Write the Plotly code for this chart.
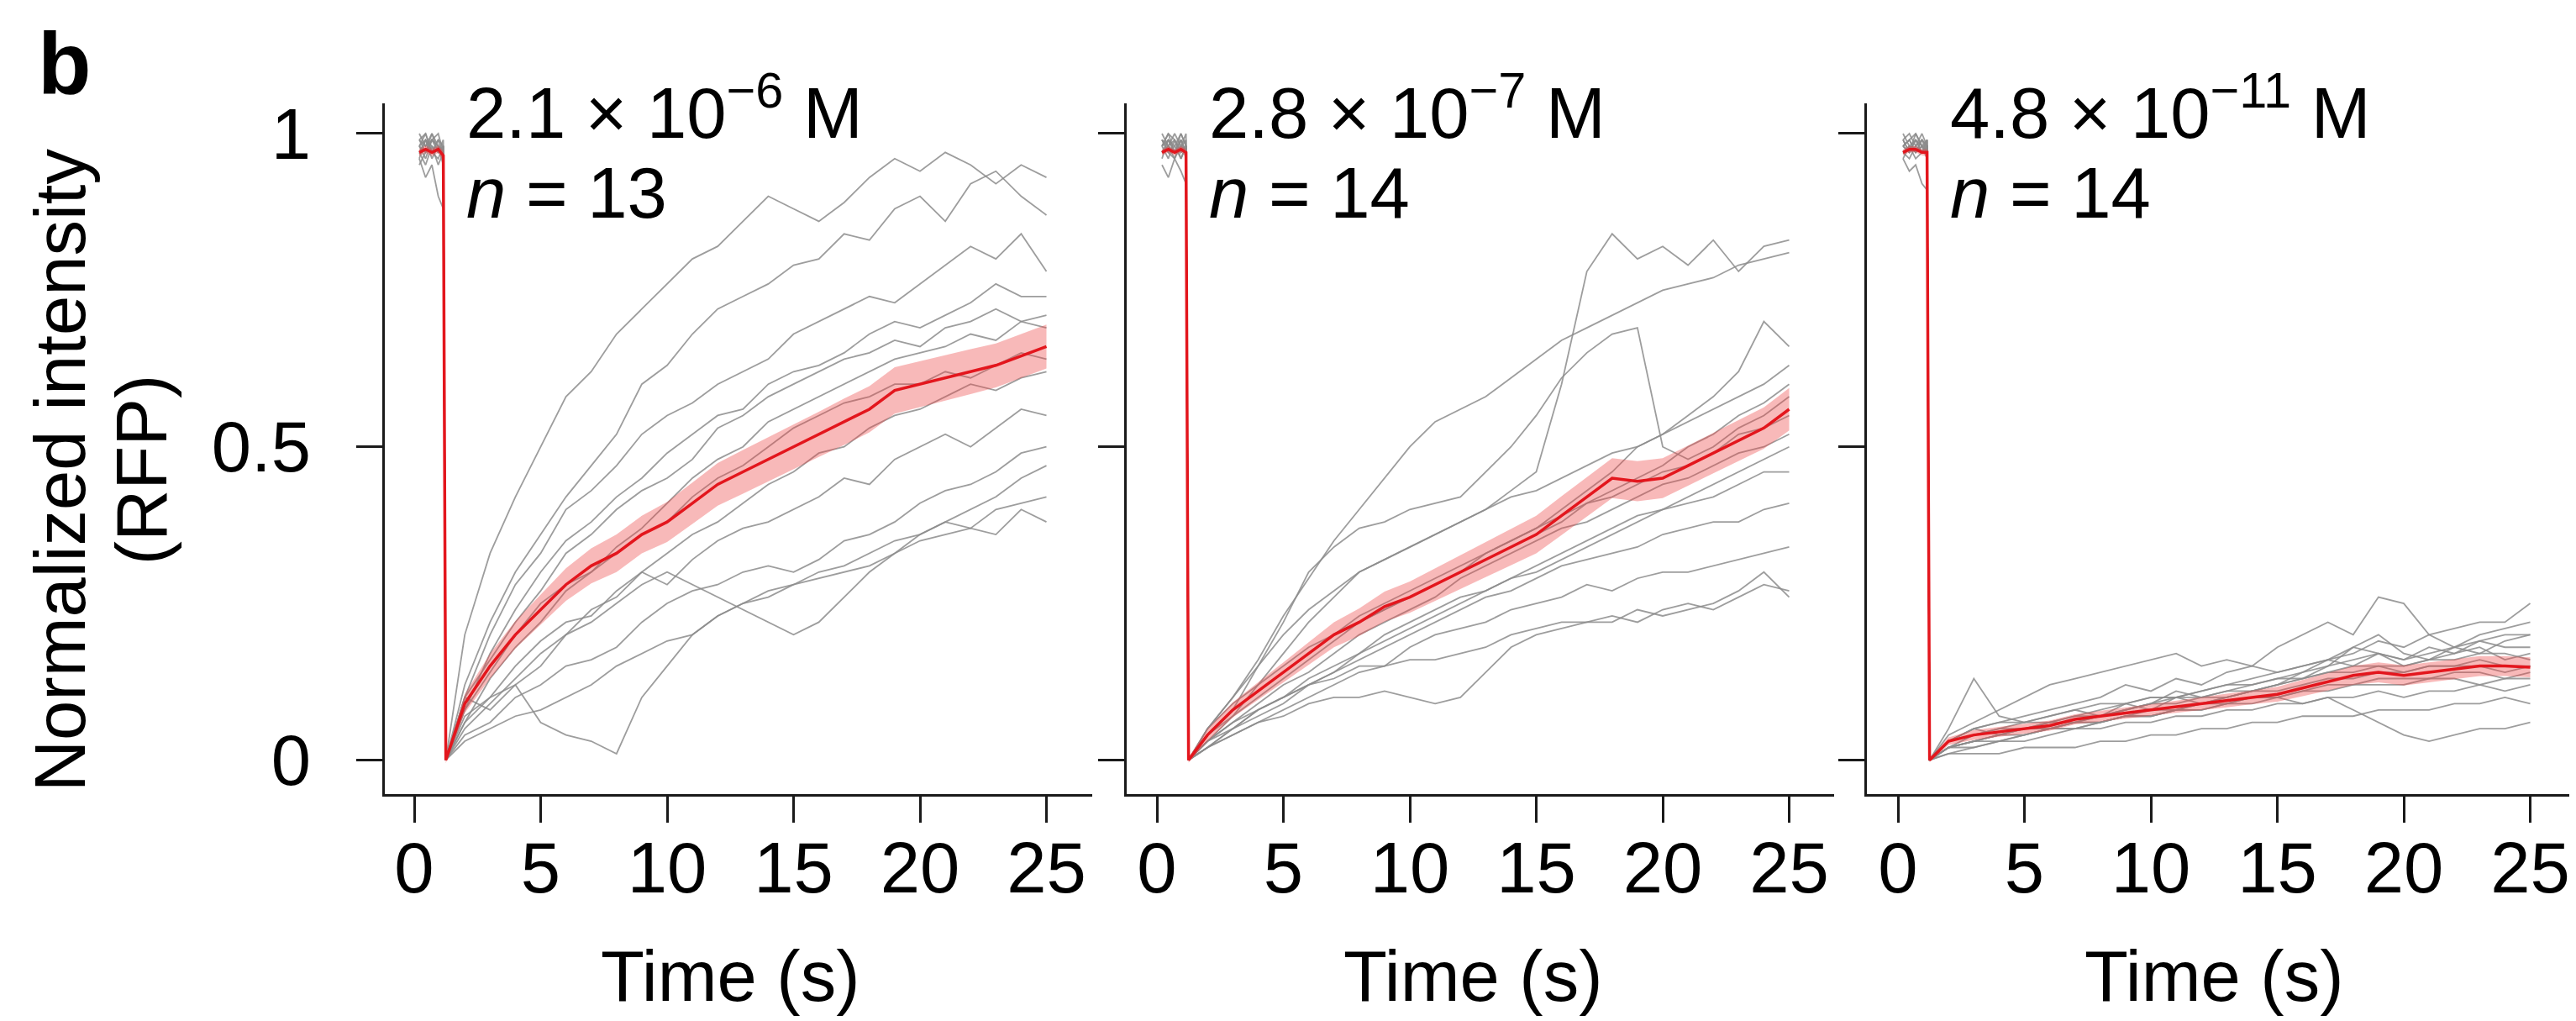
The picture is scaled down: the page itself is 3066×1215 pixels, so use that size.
import plotly.graph_objects as go

# ---------------- data ----------------
# time points (s): 5 pre-bleach samples, then recovery from bleach at ~1.2 s
time_s = [0.2, 0.45, 0.7, 0.95, 1.15,
          1.25, 2, 3, 4, 5, 6, 7, 8, 9, 10, 11, 12, 13, 14, 15,
          16, 17, 18, 19, 20, 21, 22, 23, 24, 25]

x_ticks = [0, 5, 10, 15, 20, 25]
y_ticks = [0, 0.5, 1]
y_tick_labels = ["0", "0.5", "1"]

conc_labels = ["2.1 × 10<sup>−6</sup> M", "2.8 × 10<sup>−7</sup> M", "4.8 × 10<sup>−11</sup> M"]
n_labels = ["<i>n</i> = 13", "<i>n</i> = 14", "<i>n</i> = 14"]

# panel 1: 2.1e-6 M, individual cells
cells_p1 = [
    [0.98,1.00,0.97,0.99,0.96, 0,0.20,0.33,0.42,0.50,0.58,0.62,0.68,0.72,0.76,0.80,0.82,0.86,0.90,0.88,0.86,0.89,0.93,0.96,0.94,0.97,0.95,0.92,0.95,0.93],
    [0.99,0.97,1.00,0.98,0.97, 0,0.12,0.22,0.30,0.36,0.42,0.47,0.52,0.60,0.63,0.68,0.72,0.74,0.76,0.79,0.80,0.84,0.83,0.88,0.90,0.86,0.92,0.94,0.90,0.87],
    [0.96,0.99,0.98,0.95,0.97, 0,0.10,0.20,0.28,0.33,0.40,0.43,0.47,0.52,0.55,0.57,0.60,0.62,0.64,0.68,0.70,0.72,0.74,0.73,0.76,0.79,0.82,0.80,0.84,0.78],
    [1.00,0.98,0.99,0.97,0.98, 0,0.08,0.17,0.24,0.30,0.35,0.38,0.42,0.45,0.49,0.52,0.55,0.56,0.60,0.62,0.63,0.65,0.68,0.70,0.69,0.71,0.73,0.76,0.74,0.74],
    [0.97,0.99,0.96,0.98,0.95, 0,0.10,0.16,0.22,0.27,0.33,0.36,0.40,0.43,0.45,0.48,0.53,0.55,0.58,0.60,0.62,0.64,0.65,0.67,0.66,0.69,0.70,0.72,0.70,0.71],
    [0.98,0.96,0.99,1.00,0.97, 0,0.06,0.13,0.18,0.22,0.27,0.30,0.34,0.37,0.41,0.45,0.48,0.50,0.54,0.56,0.58,0.60,0.62,0.64,0.65,0.66,0.68,0.67,0.70,0.69],
    [0.99,1.00,0.97,0.96,0.98, 0,0.08,0.14,0.20,0.25,0.28,0.30,0.33,0.36,0.38,0.42,0.45,0.47,0.50,0.53,0.55,0.57,0.58,0.60,0.60,0.62,0.61,0.63,0.65,0.64],
    [0.95,0.97,0.99,0.98,0.96, 0,0.05,0.09,0.13,0.17,0.20,0.24,0.26,0.30,0.33,0.36,0.38,0.41,0.44,0.46,0.49,0.50,0.53,0.55,0.56,0.58,0.60,0.59,0.61,0.62],
    [0.98,0.99,0.97,0.99,0.98, 0,0.07,0.10,0.15,0.19,0.22,0.23,0.27,0.30,0.28,0.32,0.35,0.37,0.38,0.40,0.42,0.45,0.44,0.48,0.50,0.52,0.50,0.53,0.56,0.55],
    [0.97,0.95,0.98,0.97,0.99, 0,0.04,0.06,0.10,0.12,0.15,0.16,0.18,0.22,0.25,0.27,0.28,0.30,0.31,0.30,0.32,0.35,0.36,0.38,0.41,0.43,0.44,0.46,0.49,0.50],
    [0.99,0.98,1.00,0.97,0.98, 0,0.06,0.10,0.12,0.15,0.20,0.22,0.25,0.28,0.30,0.28,0.26,0.24,0.22,0.20,0.22,0.26,0.30,0.33,0.36,0.38,0.40,0.42,0.45,0.47],
    [0.96,0.93,0.95,0.90,0.88, 0,0.10,0.08,0.12,0.06,0.04,0.03,0.01,0.10,0.15,0.20,0.23,0.25,0.27,0.28,0.30,0.31,0.33,0.35,0.36,0.38,0.37,0.40,0.41,0.42],
    [0.98,0.97,0.99,0.98,0.97, 0,0.03,0.05,0.07,0.08,0.10,0.12,0.15,0.17,0.19,0.20,0.23,0.25,0.26,0.28,0.29,0.30,0.31,0.33,0.35,0.36,0.37,0.36,0.40,0.38],
]
mean_p1 = [0.97,0.975,0.97,0.975,0.965, 0,0.09,0.15,0.20,0.24,0.28,0.31,0.33,0.36,0.38,0.41,0.44,0.46,0.48,0.50,0.52,0.54,0.56,0.59,0.60,0.61,0.62,0.63,0.645,0.66]
sem_p1 = [0.006,0.006,0.006,0.006,0.008, 0.005,0.015,0.020,0.022,0.024,0.026,0.028,0.030,0.030,0.032,0.033,0.034,0.035,0.035,0.036,0.036,0.037,0.037,0.037,0.037,0.036,0.036,0.035,0.035,0.035]

# panel 2: 2.8e-7 M
cells_p2 = [
    [0.98,1.00,0.97,0.99,0.97, 0,0.05,0.10,0.16,0.23,0.29,0.35,0.40,0.45,0.50,0.54,0.56,0.58,0.61,0.64,0.67,0.69,0.71,0.73,0.75,0.76,0.77,0.79,0.80,0.81],
    [0.97,0.99,0.98,1.00,0.98, 0,0.03,0.07,0.12,0.17,0.22,0.26,0.30,0.32,0.34,0.36,0.38,0.40,0.43,0.46,0.60,0.78,0.84,0.80,0.82,0.79,0.83,0.78,0.82,0.83],
    [0.99,0.97,0.96,0.98,0.97, 0,0.04,0.08,0.15,0.22,0.30,0.34,0.37,0.38,0.40,0.41,0.42,0.46,0.50,0.55,0.61,0.65,0.68,0.69,0.50,0.48,0.50,0.53,0.55,0.58],
    [0.98,0.96,0.99,0.97,0.98, 0,0.04,0.08,0.11,0.14,0.17,0.20,0.22,0.24,0.26,0.28,0.30,0.33,0.35,0.37,0.40,0.43,0.46,0.50,0.52,0.55,0.58,0.62,0.70,0.66],
    [1.00,0.98,0.97,0.99,0.96, 0,0.04,0.07,0.10,0.13,0.16,0.19,0.22,0.24,0.26,0.28,0.30,0.32,0.34,0.36,0.38,0.41,0.43,0.45,0.47,0.50,0.52,0.55,0.57,0.60],
    [0.97,0.98,1.00,0.98,0.97, 0,0.05,0.09,0.12,0.15,0.18,0.20,0.23,0.25,0.27,0.29,0.31,0.33,0.35,0.37,0.39,0.41,0.42,0.44,0.46,0.47,0.49,0.52,0.53,0.55],
    [0.99,0.97,0.98,0.96,0.98, 0,0.03,0.06,0.09,0.12,0.14,0.17,0.20,0.22,0.24,0.26,0.29,0.31,0.33,0.35,0.37,0.38,0.40,0.42,0.44,0.45,0.47,0.49,0.50,0.52],
    [0.96,0.99,0.97,0.98,0.99, 0,0.03,0.05,0.08,0.10,0.13,0.15,0.17,0.20,0.22,0.24,0.26,0.27,0.29,0.31,0.33,0.35,0.37,0.39,0.40,0.41,0.42,0.44,0.46,0.46],
    [0.98,1.00,0.99,0.97,0.98, 0,0.02,0.05,0.07,0.09,0.12,0.14,0.16,0.18,0.20,0.22,0.24,0.26,0.27,0.29,0.31,0.32,0.33,0.34,0.36,0.37,0.38,0.38,0.40,0.41],
    [0.97,0.98,0.96,0.99,0.97, 0,0.02,0.04,0.06,0.08,0.10,0.12,0.14,0.15,0.18,0.20,0.21,0.22,0.24,0.25,0.26,0.28,0.27,0.29,0.30,0.30,0.31,0.32,0.33,0.34],
    [0.99,0.98,0.97,1.00,0.98, 0,0.03,0.06,0.08,0.10,0.12,0.13,0.15,0.15,0.16,0.16,0.17,0.18,0.20,0.21,0.22,0.22,0.23,0.22,0.24,0.25,0.24,0.26,0.28,0.27],
    [0.95,0.93,0.96,0.94,0.92, 0,0.02,0.04,0.06,0.07,0.09,0.10,0.10,0.11,0.10,0.09,0.10,0.14,0.18,0.20,0.21,0.22,0.22,0.24,0.23,0.24,0.25,0.27,0.30,0.26],
    [0.98,0.99,0.97,0.98,1.00, 0,0.05,0.10,0.15,0.20,0.24,0.27,0.30,0.32,0.34,0.36,0.38,0.40,0.42,0.43,0.45,0.47,0.49,0.50,0.52,0.54,0.56,0.58,0.60,0.63],
    [0.97,0.98,0.99,0.96,0.98, 0,0.02,0.05,0.08,0.10,0.12,0.14,0.17,0.19,0.21,0.23,0.25,0.27,0.29,0.30,0.32,0.34,0.36,0.38,0.40,0.42,0.44,0.46,0.48,0.50],
]
mean_p2 = [0.97,0.975,0.97,0.975,0.97, 0,0.04,0.08,0.11,0.14,0.17,0.20,0.22,0.245,0.26,0.28,0.30,0.32,0.34,0.36,0.39,0.42,0.45,0.445,0.45,0.47,0.49,0.51,0.53,0.56]
sem_p2 = [0.005,0.005,0.005,0.005,0.006, 0.004,0.010,0.012,0.014,0.016,0.018,0.020,0.022,0.024,0.025,0.026,0.027,0.028,0.029,0.030,0.031,0.032,0.032,0.032,0.032,0.032,0.032,0.033,0.033,0.034]

# panel 3: 4.8e-11 M
cells_p3 = [
    [0.99,0.97,1.00,0.98,0.97, 0,0.03,0.05,0.06,0.07,0.08,0.09,0.10,0.12,0.11,0.13,0.12,0.14,0.15,0.18,0.20,0.22,0.20,0.26,0.25,0.20,0.18,0.19,0.20,0.20],
    [0.98,0.99,0.97,0.98,0.99, 0,0.02,0.04,0.05,0.06,0.06,0.07,0.08,0.09,0.10,0.10,0.11,0.12,0.13,0.14,0.15,0.16,0.17,0.19,0.18,0.20,0.21,0.22,0.22,0.25],
    [0.97,0.98,0.99,0.97,0.98, 0,0.04,0.06,0.08,0.10,0.12,0.13,0.14,0.15,0.16,0.17,0.15,0.16,0.15,0.14,0.15,0.16,0.15,0.17,0.16,0.18,0.17,0.19,0.18,0.18],
    [1.00,0.98,0.97,0.99,0.98, 0,0.05,0.13,0.07,0.06,0.07,0.08,0.07,0.09,0.08,0.10,0.09,0.10,0.11,0.12,0.14,0.16,0.18,0.17,0.15,0.16,0.17,0.18,0.16,0.17],
    [0.96,0.94,0.95,0.92,0.91, 0,0.03,0.04,0.05,0.05,0.06,0.07,0.07,0.08,0.09,0.10,0.10,0.11,0.12,0.13,0.14,0.15,0.16,0.17,0.16,0.17,0.18,0.17,0.19,0.20],
    [0.98,0.97,0.99,0.98,0.96, 0,0.02,0.03,0.04,0.05,0.06,0.06,0.07,0.08,0.09,0.09,0.10,0.11,0.11,0.12,0.13,0.14,0.14,0.15,0.15,0.16,0.16,0.17,0.17,0.16],
    [0.99,1.00,0.98,0.97,0.99, 0,0.03,0.05,0.06,0.06,0.07,0.08,0.09,0.09,0.10,0.10,0.11,0.12,0.12,0.13,0.13,0.14,0.15,0.15,0.14,0.15,0.15,0.16,0.15,0.15],
    [0.97,0.96,0.98,0.99,0.97, 0,0.02,0.03,0.03,0.04,0.05,0.05,0.06,0.07,0.07,0.08,0.08,0.09,0.10,0.10,0.11,0.12,0.12,0.13,0.13,0.13,0.14,0.14,0.13,0.14],
    [0.98,0.99,0.97,0.98,0.98, 0,0.01,0.02,0.03,0.04,0.05,0.06,0.06,0.07,0.08,0.08,0.09,0.09,0.10,0.10,0.11,0.11,0.12,0.12,0.12,0.13,0.13,0.12,0.13,0.13],
    [0.99,0.97,0.98,1.00,0.98, 0,0.02,0.02,0.03,0.03,0.04,0.05,0.05,0.06,0.06,0.07,0.07,0.08,0.08,0.09,0.09,0.10,0.10,0.11,0.10,0.11,0.11,0.12,0.11,0.12],
    [0.97,0.98,0.96,0.97,0.99, 0,0.02,0.03,0.04,0.04,0.05,0.06,0.06,0.07,0.07,0.08,0.08,0.09,0.09,0.10,0.09,0.10,0.08,0.06,0.04,0.03,0.04,0.05,0.05,0.06],
    [0.98,0.99,1.00,0.98,0.97, 0,0.01,0.01,0.01,0.02,0.02,0.02,0.03,0.03,0.04,0.04,0.05,0.05,0.06,0.06,0.07,0.07,0.07,0.08,0.08,0.08,0.09,0.09,0.10,0.09],
    [0.96,0.98,0.97,0.99,0.98, 0,0.03,0.05,0.04,0.05,0.05,0.06,0.07,0.08,0.09,0.11,0.10,0.10,0.11,0.12,0.13,0.15,0.18,0.20,0.17,0.16,0.18,0.20,0.21,0.22],
    [0.98,0.97,0.99,0.97,0.98, 0,0.02,0.03,0.04,0.05,0.05,0.05,0.06,0.07,0.07,0.08,0.09,0.10,0.11,0.11,0.12,0.13,0.13,0.14,0.14,0.15,0.15,0.15,0.14,0.15],
]
mean_p3 = [0.97,0.975,0.975,0.97,0.97, 0,0.03,0.04,0.045,0.05,0.055,0.065,0.07,0.075,0.08,0.085,0.09,0.095,0.10,0.105,0.115,0.125,0.135,0.14,0.135,0.14,0.145,0.15,0.15,0.148]
sem_p3 = [0.005,0.005,0.005,0.005,0.006, 0.003,0.006,0.008,0.008,0.008,0.008,0.008,0.009,0.009,0.009,0.010,0.010,0.011,0.011,0.012,0.013,0.014,0.015,0.016,0.016,0.016,0.016,0.016,0.016,0.016]

panels = [
    (cells_p1, mean_p1, sem_p1),
    (cells_p2, mean_p2, sem_p2),
    (cells_p3, mean_p3, sem_p3),
]

# ---------------- styling / layout ----------------
W, H = 3066, 1215
FONT = "Liberation Sans, Arial, Helvetica, sans-serif"
FS = 85
GRAY = "rgba(140,140,140,0.85)"
RED = "#e3161d"
BAND = "rgba(236,70,70,0.38)"
AXC = "#1a1a1a"

# pixel geometry
x_dom_px = [(450, 1292), (1333, 2175), (2214, 3056)]
x_zero_px = [485, 1369, 2251]
px_per_s = 30.1
y_top_px, y_bot_px = 106, 940
y0_px, y1_px = 899, 143
px_per_unit = (y0_px - y1_px)

y_range = [-(y_bot_px - y0_px) / px_per_unit, (y0_px - y_top_px) / px_per_unit]
y_dom = [1 - y_bot_px / H, 1 - y_top_px / H]

fig = go.Figure()
layout_axes = {}
annotations = []

for i, (cells, mean, sem) in enumerate(panels):
    k = "" if i == 0 else str(i + 1)
    xa, ya = "x" + k, "y" + k
    for c in cells:
        fig.add_trace(go.Scatter(x=time_s, y=c, mode="lines", xaxis=xa, yaxis=ya,
                                 line=dict(color=GRAY, width=1.8), hoverinfo="skip"))
    lo = [m - s for m, s in zip(mean, sem)]
    hi = [m + s for m, s in zip(mean, sem)]
    fig.add_trace(go.Scatter(x=time_s, y=lo, mode="lines", xaxis=xa, yaxis=ya,
                             line=dict(width=0, color=BAND), hoverinfo="skip"))
    fig.add_trace(go.Scatter(x=time_s, y=hi, mode="lines", xaxis=xa, yaxis=ya,
                             fill="tonexty", fillcolor=BAND,
                             line=dict(width=0, color=BAND), hoverinfo="skip"))
    fig.add_trace(go.Scatter(x=time_s, y=mean, mode="lines", xaxis=xa, yaxis=ya,
                             line=dict(color=RED, width=3.5), hoverinfo="skip"))

    d0, d1 = x_dom_px[i]
    xr0 = -(x_zero_px[i] - d0) / px_per_s
    xr1 = xr0 + (d1 - d0) / px_per_s
    layout_axes["xaxis" + k] = dict(
        domain=[d0 / W, d1 / W], range=[xr0, xr1], anchor=ya,
        showline=True, linecolor=AXC, linewidth=3, showgrid=False, zeroline=False,
        ticks="outside", ticklen=31, tickwidth=2.5, tickcolor=AXC,
        tickvals=x_ticks, ticktext=[str(v) for v in x_ticks],
        tickfont=dict(family=FONT, size=FS, color="black"),
        ticklabelstandoff=-19,
    )
    yax = dict(
        domain=y_dom, range=y_range, anchor=xa,
        showline=True, linecolor=AXC, linewidth=3, showgrid=False, zeroline=False,
        ticks="outside", ticklen=31, tickwidth=2.5, tickcolor=AXC,
        tickvals=y_ticks, showticklabels=(i == 0),
        tickfont=dict(family=FONT, size=FS, color="black"),
        ticklabelstandoff=37,
    )
    if i == 0:
        yax["ticktext"] = y_tick_labels
    layout_axes["yaxis" + k] = yax
    # concentration + n labels
    annotations.append(dict(xref=xa, yref="paper", x=2.0, y=1 - 112 / H,
                            xanchor="left", yanchor="middle", showarrow=False,
                            text=conc_labels[i], font=dict(family=FONT, size=FS, color="black")))
    annotations.append(dict(xref=xa, yref="paper", x=2.0, y=1 - 214 / H,
                            xanchor="left", yanchor="middle", showarrow=False,
                            text=n_labels[i], font=dict(family=FONT, size=FS, color="black")))
    annotations.append(dict(xref=xa, yref="paper", x=12.5, y=1 - 1160 / H,
                            xanchor="center", yanchor="middle", showarrow=False,
                            text="Time (s)", font=dict(family=FONT, size=FS, color="black")))

annotations.append(dict(xref="paper", yref="paper", x=63 / W, y=1 - 549 / H,
                        xanchor="center", yanchor="middle", showarrow=False, textangle=-90,
                        text="Normalized intensity", font=dict(family=FONT, size=FS, color="black")))
annotations.append(dict(xref="paper", yref="paper", x=160 / W, y=1 - 549 / H,
                        xanchor="center", yanchor="middle", showarrow=False, textangle=-90,
                        text="(RFP)", font=dict(family=FONT, size=FS, color="black")))
annotations.append(dict(xref="paper", yref="paper", x=35 / W, y=1 - 58 / H,
                        xanchor="left", yanchor="middle", showarrow=False,
                        text="<b>b</b>", font=dict(family=FONT, size=104, color="black")))

fig.update_layout(
    width=W, height=H, margin=dict(l=0, r=0, t=0, b=0),
    paper_bgcolor="white", plot_bgcolor="white", showlegend=False,
    annotations=annotations, **layout_axes,
)

fig.write_html("out.html")
